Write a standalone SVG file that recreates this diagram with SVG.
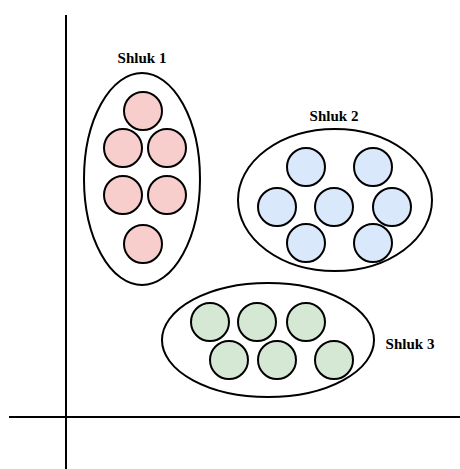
<svg xmlns="http://www.w3.org/2000/svg" width="460" height="469" viewBox="0 0 460 469">
  <style>
    .axis { stroke: #000; stroke-width: 2; fill: none; }
    .hull { fill: #fff; stroke: #000; stroke-width: 2; }
    .pt { stroke: #000; stroke-width: 2; }
    .c1 .pt { fill: #f8cecc; }
    .c2 .pt { fill: #dae8fc; }
    .c3 .pt { fill: #d5e8d4; }
    .lbl { font-family: "Liberation Serif", "Times New Roman", serif; font-weight: bold; font-size: 15px; text-anchor: middle; fill: #000; }
  </style>
  <rect width="460" height="469" fill="#fff"/>
  <g id="axes">
    <line class="axis" x1="66" y1="15" x2="66" y2="469"/>
    <line class="axis" x1="9" y1="417" x2="460" y2="417"/>
  </g>
  <g id="cluster1" class="c1">
    <ellipse class="hull" cx="142" cy="179" rx="58" ry="106"/>
    <circle class="pt" cx="143" cy="111" r="19"/>
    <circle class="pt" cx="123" cy="148" r="19"/>
    <circle class="pt" cx="167" cy="148" r="19"/>
    <circle class="pt" cx="123" cy="195" r="19"/>
    <circle class="pt" cx="167" cy="195" r="19"/>
    <circle class="pt" cx="143" cy="244" r="19"/>
    <text class="lbl" x="142" y="63">Shluk 1</text>
  </g>
  <g id="cluster2" class="c2">
    <ellipse class="hull" cx="335" cy="200" rx="97" ry="71"/>
    <circle class="pt" cx="306" cy="167" r="19"/>
    <circle class="pt" cx="373" cy="167" r="19"/>
    <circle class="pt" cx="277" cy="207" r="19"/>
    <circle class="pt" cx="334" cy="207" r="19"/>
    <circle class="pt" cx="392" cy="207" r="19"/>
    <circle class="pt" cx="306" cy="243" r="19"/>
    <circle class="pt" cx="373" cy="243" r="19"/>
    <text class="lbl" x="334" y="121">Shluk 2</text>
  </g>
  <g id="cluster3" class="c3">
    <ellipse class="hull" cx="268" cy="340" rx="106" ry="57"/>
    <circle class="pt" cx="210" cy="322" r="19"/>
    <circle class="pt" cx="257" cy="322" r="19"/>
    <circle class="pt" cx="306" cy="322" r="19"/>
    <circle class="pt" cx="229" cy="360" r="19"/>
    <circle class="pt" cx="277" cy="360" r="19"/>
    <circle class="pt" cx="334" cy="360" r="19"/>
    <text class="lbl" x="410" y="349">Shluk 3</text>
  </g>
</svg>
